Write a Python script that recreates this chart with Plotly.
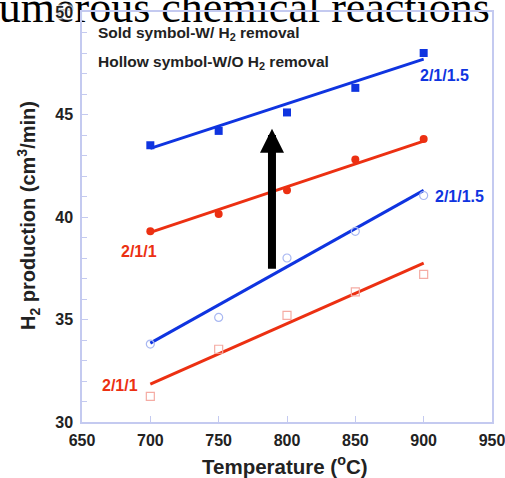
import plotly.graph_objects as go

temps = [700, 750, 800, 850, 900]
solid_blue = [43.5, 44.2, 45.1, 46.3, 48.0]      # 2/1/1.5 with H2 removal
solid_red = [39.3, 40.15, 41.3, 42.8, 43.8]      # 2/1/1 with H2 removal
hollow_blue = [33.8, 35.1, 38.0, 39.3, 41.05]    # 2/1/1.5 without removal
hollow_red = [31.25, 33.55, 35.2, 36.35, 37.2]   # 2/1/1 without removal

fit_x = [700, 900]
fit_solid_blue = [43.35, 47.7]
fit_solid_red = [39.25, 43.7]
fit_hollow_blue = [33.85, 41.3]
fit_hollow_red = [31.85, 37.75]

BLUE = "#0f34e0"
RED = "#ec3012"
AXC = "#c4caf0"
TXT = "#222222"
SANS = "Liberation Sans, Arial"
HALO = "0 0 2px #fff, 0 0 2px #fff, 0 0 3px #fff, 0 0 3px #fff, 0 0 4px #fff"

fig = go.Figure()

# clipped heading text at the top (drawn as a trace so tick labels stay above it)
fig.add_trace(go.Scatter(x=[948.5], y=[48.98], mode="text",
                         text=["numerous chemical reactions"],
                         textposition="top left", cliponaxis=False,
                         textfont=dict(family="Liberation Serif, Times New Roman",
                                       size=44, color="black"),
                         showlegend=False, hoverinfo="skip"))

def fit(y, c):
    fig.add_trace(go.Scatter(x=fit_x, y=y, mode="lines",
                             line=dict(color=c, width=3), showlegend=False,
                             hoverinfo="skip"))

fit(fit_solid_blue, BLUE)
fit(fit_solid_red, RED)
fit(fit_hollow_blue, BLUE)
fit(fit_hollow_red, RED)

fig.add_trace(go.Scatter(x=temps, y=solid_blue, mode="markers",
                         marker=dict(symbol="square", size=8, color=BLUE),
                         showlegend=False))
fig.add_trace(go.Scatter(x=temps, y=solid_red, mode="markers",
                         marker=dict(symbol="circle", size=8, color=RED),
                         showlegend=False))
fig.add_trace(go.Scatter(x=temps, y=hollow_blue, mode="markers",
                         marker=dict(symbol="circle-open", size=8,
                                     color="#a9b8f2", line=dict(width=1.2)),
                         showlegend=False))
fig.add_trace(go.Scatter(x=temps, y=hollow_red, mode="markers",
                         marker=dict(symbol="square-open", size=8,
                                     color="#f5aca4", line=dict(width=1.2)),
                         showlegend=False))

lab_font = dict(family=SANS, size=16, color=BLUE)
annots = [
    dict(x=915, y=46.88, text="<b>2/1/1.5</b>", font=lab_font),
    dict(x=926, y=41.02, text="<b>2/1/1.5</b>", font=lab_font),
    dict(x=692, y=38.3, text="<b>2/1/1</b>", font=dict(lab_font, color=RED)),
    dict(x=678, y=31.76, text="<b>2/1/1</b>", font=dict(lab_font, color=RED)),
]
for a in annots:
    a.update(xref="x", yref="y", showarrow=False, xanchor="center", yanchor="middle")
    fig.add_annotation(**a)

leg_font = dict(family=SANS, size=15.5, color=TXT)
fig.add_annotation(x=660, y=48.95, xref="x", yref="y", xanchor="left",
                   yanchor="middle",
                   text="<b>Sold symbol-W/ H<sub>2</sub> removal</b>",
                   showarrow=False, font=leg_font)
fig.add_annotation(x=660, y=47.55, xref="x", yref="y", xanchor="left",
                   yanchor="middle",
                   text="<b>Hollow symbol-W/O H<sub>2</sub> removal</b>",
                   showarrow=False, font=leg_font)

# big black arrow
fig.add_annotation(x=789, y=44.3, ax=789, ay=37.4, xref="x", yref="y",
                   axref="x", ayref="y", text="", showarrow=True,
                   arrowhead=2, arrowwidth=8, arrowsize=0.6,
                   arrowcolor="black")

# axis titles
fig.add_annotation(x=(28 - 82) / 410, y=1 - (216 - 12) / 410,
                   xref="paper", yref="paper", xanchor="center", yanchor="middle",
                   text="<b>H<sub>2</sub> production (cm<sup>3</sup>/min)</b>",
                   textangle=-90, showarrow=False,
                   font=dict(family=SANS, size=20, color=TXT))
fig.add_annotation(x=(285 - 82) / 410, y=1 - (465 - 12) / 410,
                   xref="paper", yref="paper", xanchor="center", yanchor="middle",
                   text="<b>Temperature (<sup>o</sup>C)</b>", showarrow=False,
                   font=dict(family=SANS, size=20.5, color=TXT))

tick_font = dict(family=SANS, size=16, color=TXT, shadow=HALO)
fig.update_xaxes(range=[650, 950], dtick=50, tick0=650, automargin=False,
                 showline=True, linecolor=AXC, linewidth=1.5, mirror=True,
                 ticks="inside", ticklen=6, tickcolor=AXC, tickwidth=1.2,
                 showgrid=False, zeroline=False, ticklabelstandoff=3,
                 ticklabeloverflow="allow",
                 tickfont=tick_font, tickprefix="<b>", ticksuffix="</b>")
fig.update_yaxes(range=[30, 50], dtick=5, tick0=30, automargin=False,
                 showline=True, linecolor=AXC, linewidth=1.5, mirror=True,
                 ticks="inside", ticklen=6, tickcolor=AXC, tickwidth=1.2,
                 minor=dict(dtick=1, ticks="inside", ticklen=5, tickcolor=AXC),
                 showgrid=False, zeroline=False, ticklabelstandoff=4,
                 ticklabeloverflow="allow",
                 tickfont=tick_font, tickprefix="<b>", ticksuffix="</b>")

fig.update_layout(width=505, height=478,
                  margin=dict(l=82, r=13, t=12, b=56),
                  plot_bgcolor="white", paper_bgcolor="white",
                  showlegend=False)

fig.write_html("out.html", config={"displayModeBar": False},
               post_script="document.body.style.margin='0';"
                           "document.body.style.overflow='hidden';")
